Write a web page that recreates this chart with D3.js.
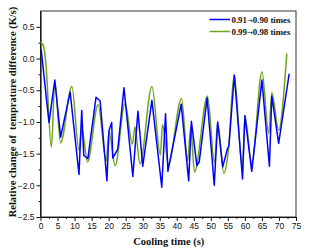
<!DOCTYPE html>
<html>
<head>
<meta charset="utf-8">
<script src="https://cdn.jsdelivr.net/npm/d3@7"></script>
<style>
  html, body { margin: 0; padding: 0; background: #fff; }
  svg { display: block; }
</style>
</head>
<body>
<div id="chart"></div>
<script>
// series: 0.91 -> 0.90 times (blue)
const blueTime = [0.2, 2.5, 4.2, 5.9, 8.7, 11.3, 12.1, 12.7, 13.9, 16.3, 17.5, 19.5, 20.1, 20.9, 21.2, 22.7,
  24.5, 27.1, 28.6, 30.0, 32.7, 35.6, 36.7, 37.4, 41.3, 43.5, 44.3, 45.9, 46.6, 48.9, 51.0, 52.0, 53.5,
  54.9, 55.3, 56.9, 59.3, 60.0, 62.0, 65.0, 67.2, 67.9, 69.9, 73.0];
const blueValue = [0.14, -1.01, -0.34, -1.24, -0.53, -1.83, -0.82, -1.53, -1.58, -0.61, -0.67, -1.93, -1.14, -1.01, -1.57, -1.43,
  -0.46, -1.86, -0.83, -1.70, -0.66, -2.03, -0.87, -1.78, -0.72, -1.93, -0.99, -1.69, -1.63, -0.62, -2.0, -1.0, -1.71,
  -1.42, -1.38, -0.26, -1.90, -0.90, -1.78, -0.34, -1.70, -0.59, -1.34, -0.24];

// series: 0.99 -> 0.98 times (green)
const greenTime = [0, 0.9, 1.6, 3.2, 4.2, 5.9, 9.2, 11.3, 12.1, 13.8, 16.9, 19.3, 20.1, 21.9, 24.8, 27.0, 27.7,
  29.2, 32.7, 35.2, 35.8, 37.5, 41.4, 43.2, 44.1, 45.2, 49.0, 51.1, 52.0, 53.8, 55.2, 56.8, 59.3, 60.0,
  62.0, 65.0, 67.0, 67.9, 69.9, 72.3];
const greenValue = [0.26, 0.2, -0.1, -1.40, -0.37, -1.33, -0.44, -1.45, -1.1, -1.63, -0.73, -1.62, -1.15, -1.69, -0.71, -1.35, -1.08,
  -1.66, -0.44, -1.52, -1.04, -1.66, -0.63, -1.61, -1.08, -1.79, -0.59, -1.65, -1.02, -1.81, -1.42, -0.27, -1.72, -0.92,
  -1.65, -0.21, -1.18, -0.54, -1.13, 0.08];

const xTicks = [0, 5, 10, 15, 20, 25, 30, 35, 40, 45, 50, 55, 60, 65, 70, 75];
const yTicks = [-2.5, -2.0, -1.5, -1.0, -0.5, 0.0, 0.5];
// legend labels split around the arrow so the arrow can use a font that has it
const legendFrom = ['0.91', '0.99'];
const legendTo = ['0.90 times', '0.98 times'];

const W = 311, H = 252;
const margin = { top: 11, right: 15, bottom: 35, left: 40.5 };
const width = W - margin.left - margin.right;
const height = H - margin.top - margin.bottom;

const svg = d3.select('#chart').append('svg')
  .attr('width', W)
  .attr('height', H);

const g = svg.append('g').attr('transform', `translate(${margin.left},${margin.top})`);

const x = d3.scaleLinear().domain([0, 75]).range([0, width]);
const y = d3.scaleLinear().domain([-2.5, 0.75]).range([height, 0]);

const tickFont = 'Liberation Sans, Arial, sans-serif';
const labelFont = 'Liberation Serif, Times New Roman, serif';

// frame (top and right)
g.append('rect')
  .attr('x', 0).attr('y', 0)
  .attr('width', width).attr('height', height)
  .attr('fill', 'none')
  .attr('stroke', '#333')
  .attr('stroke-width', 1);

// minor ticks
g.append('g')
  .attr('transform', `translate(0,${height})`)
  .call(d3.axisBottom(x).tickValues(d3.range(2.5, 75, 5)).tickSize(2).tickFormat(''))
  .call((s) => s.select('.domain').remove());
g.append('g')
  .call(d3.axisLeft(y).tickValues(d3.range(-2.25, 0.75, 0.5)).tickSize(2).tickFormat(''))
  .call((s) => s.select('.domain').remove());

// major axes
const xAxis = g.append('g')
  .attr('transform', `translate(0,${height})`)
  .call(d3.axisBottom(x).tickValues(xTicks).tickSize(4).tickSizeOuter(0).tickPadding(2));
const yAxis = g.append('g')
  .call(d3.axisLeft(y).tickValues(yTicks).tickSize(4).tickSizeOuter(0).tickPadding(2)
    .tickFormat(d3.format('.1f')));

[xAxis, yAxis].forEach((ax) => {
  ax.selectAll('text')
    .style('font-family', tickFont)
    .style('font-size', '8.5px')
    .attr('fill', '#111');
  ax.selectAll('line').attr('stroke', '#111');
  ax.select('.domain').attr('stroke', '#111').attr('stroke-width', 1.2);
});
g.selectAll('.tick line').attr('stroke', '#111');

const line = d3.line()
  .x((d) => x(d[0]))
  .y((d) => y(d[1]));

const greenData = greenTime.map((t, i) => [t, greenValue[i]]);
const blueData = blueTime.map((t, i) => [t, blueValue[i]]);

g.append('path')
  .datum(greenData)
  .attr('fill', 'none')
  .attr('stroke', '#6ea41c')
  .attr('stroke-width', 1.5)
  .attr('stroke-linejoin', 'round')
  .attr('d', d3.line().x((d) => x(d[0])).y((d) => y(d[1])).curve(d3.curveMonotoneX));

g.append('path')
  .datum(blueData)
  .attr('fill', 'none')
  .attr('stroke', '#0000ff')
  .attr('stroke-width', 1.5)
  .attr('stroke-linejoin', 'round')
  .attr('d', line);

// legend
const legend = svg.append('g');
const legendColors = ['#0000ff', '#6ea41c'];
legendFrom.forEach((from, i) => {
  const ly = 19.5 + i * 12;
  legend.append('line')
    .attr('x1', 209.5).attr('x2', 230)
    .attr('y1', ly).attr('y2', ly)
    .attr('stroke', legendColors[i])
    .attr('stroke-width', 1.5);
  const t = legend.append('text')
    .attr('x', 231.5).attr('y', ly + 3)
    .style('font-family', labelFont)
    .style('font-weight', 'bold')
    .style('font-size', '8.8px')
    .attr('fill', '#111');
  t.append('tspan').text(from);
  t.append('tspan')
    .style('font-family', 'DejaVu Sans, sans-serif')
    .style('font-weight', 'normal')
    .style('font-size', '7px')
    .text('\u2192');
  t.append('tspan').text(legendTo[i]);
});

// axis titles
svg.append('text')
  .attr('x', margin.left + width / 2 + 0.5)
  .attr('y', 244.5)
  .attr('text-anchor', 'middle')
  .style('font-family', labelFont)
  .style('font-weight', 'bold')
  .style('font-size', '10.5px')
  .attr('fill', '#111')
  .text('Cooling time (s)');

svg.append('text')
  .attr('transform', 'translate(15.5,112) rotate(-90)')
  .attr('text-anchor', 'middle')
  .style('font-family', labelFont)
  .style('font-weight', 'bold')
  .style('font-size', '10.5px')
  .style('white-space', 'pre')
  .attr('fill', '#111')
  .text('Relative change of  temprature difference (K/s)');
</script>
</body>
</html>
